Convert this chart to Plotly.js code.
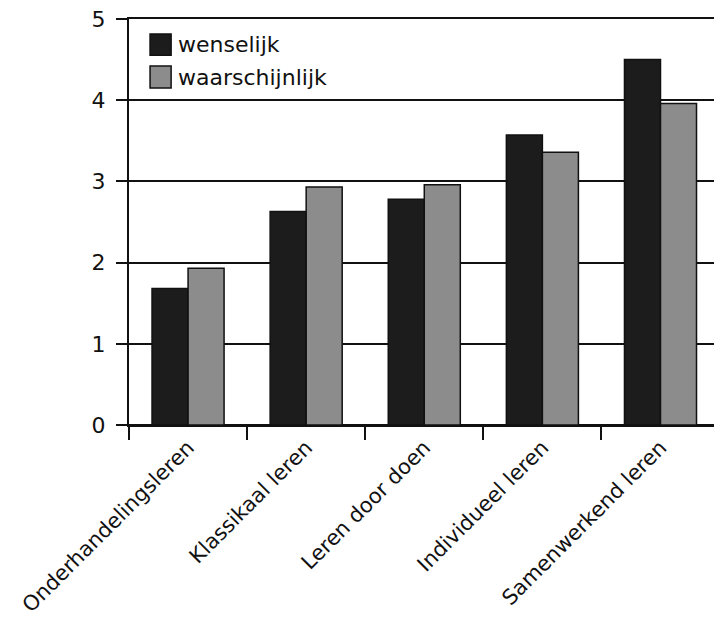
<!DOCTYPE html>
<html><head><meta charset="utf-8">
<script src="https://cdn.plot.ly/plotly-3.0.1.min.js"></script>
<style>html,body{margin:0;padding:0;background:#fff}</style>
</head><body>
<div id="chart" style="width:714px;height:617px"></div>
<script>
const categories = ["Onderhandelingsleren","Klassikaal leren","Leren door doen","Individueel leren","Samenwerkend leren"];
const wenselijk = [1.68, 2.63, 2.78, 3.57, 4.50];
const waarschijnlijk = [1.93, 2.93, 2.96, 3.36, 3.96];
const seriesNames = ["wenselijk","waarschijnlijk"];
const seriesColors = ["#1c1c1c","#8c8c8c"];
const yTicks = [0,1,2,3,4,5];

const FONT = "DejaVu Sans, Verdana, sans-serif";
const traces = [wenselijk, waarschijnlijk].map((vals,i)=>({
  type:"bar", name:seriesNames[i], x:categories, y:vals,
  marker:{color:seriesColors[i], line:{color:"#111", width:1.5}},
  hoverinfo:"x+y"
}));

const legShapes = [], legAnn = [];
const ly = [[0.963,0.911,0.937],[0.884,0.830,0.857]];
seriesNames.forEach((n,i)=>{
  legShapes.push({type:"rect", xref:"paper", yref:"paper", x0:0.036, x1:0.072, y0:ly[i][1], y1:ly[i][0],
    fillcolor:seriesColors[i], line:{color:"#111", width:1.5}});
  legAnn.push({xref:"paper", yref:"paper", x:0.080, y:ly[i][2], xanchor:"left", yanchor:"middle",
    text:n, showarrow:false, font:{family:FONT, size:22, color:"#111"}});
});

const layout = {
  width:714, height:617,
  margin:{l:129, r:0, t:19, b:192},
  paper_bgcolor:"#fff", plot_bgcolor:"#fff",
  showlegend:false,
  barmode:"group", bargap:0.39, bargroupgap:0,
  font:{family:FONT, size:21, color:"#111"},
  xaxis:{type:"category", range:[-0.5,4.453], tickangle:-45, tickson:"boundaries",
    ticks:"outside", ticklen:13, tickwidth:2, tickcolor:"#111",
    showline:true, mirror:true, linecolor:"#111", linewidth:2,
    showgrid:false, zeroline:false,
    tickfont:{family:FONT, size:21, color:"#111"}},
  yaxis:{range:[0,5], tickvals:yTicks, ticktext:yTicks.map(String),
    ticks:"outside", ticklen:11, tickwidth:2, tickcolor:"#111",
    showgrid:true, gridcolor:"#111", gridwidth:2,
    showline:true, linecolor:"#111", linewidth:2,
    zeroline:true, zerolinecolor:"#111", zerolinewidth:2,
    tickfont:{family:FONT, size:22, color:"#111"}, ticklabelstandoff:6},
  shapes:legShapes, annotations:legAnn
};
Plotly.newPlot("chart", traces, layout, {displayModeBar:false, staticPlot:true});
</script>
</body></html>
